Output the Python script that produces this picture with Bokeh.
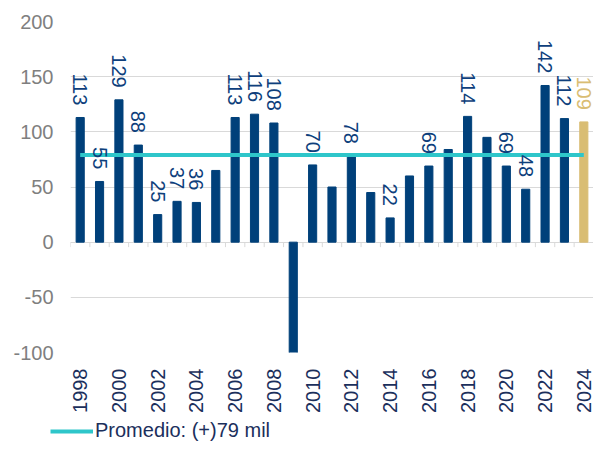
import math
from bokeh.plotting import figure
from bokeh.layouts import column
from bokeh.models import (ColumnDataSource, Range1d, FixedTicker, SingleIntervalTicker,
                          Legend, LegendItem)
from bokeh.core.properties import value
from bokeh.embed import file_html
from bokeh.resources import INLINE

# ---- data ----
years = list(range(1998, 2025))
values = [113, 55, 129, 88, 25, 37, 36, 65, 113, 116, 108, -110, 70, 50, 78,
          45, 22, 60, 69, 84, 114, 95, 69, 48, 142, 112, 109]
value_labels = ["113", "55", "129", "88", "25", "37", "36", "", "113", "116", "108", "",
                "70", "", "78", "", "22", "", "69", "", "114", "", "69", "48", "142",
                "112", "109"]
highlight_year = 2024
average = 79
legend_text = "Promedio: (+)79 mil"
y_ticks = [-100, -50, 0, 50, 100, 150, 200]

NAVY = "#00407A"
GOLD = "#D9BD73"
CYAN = "#2EC6CA"
GRID = "#D9D9D9"
FONT = "Liberation Sans"
W = 593

bar_colors = [GOLD if y == highlight_year else NAVY for y in years]
label_colors = [GOLD if y == highlight_year else "#0E3F7C" for y in years]
label_y = [v + 11 for v in values]

src = ColumnDataSource(dict(x=years, top=values, color=bar_colors,
                            lbl=value_labels, ly=label_y, lcolor=label_colors))

p = figure(width=W, height=415, output_backend="svg", toolbar_location=None,
           x_range=Range1d(years[0] - 0.5, years[-1] + 0.5),
           y_range=Range1d(-100, 200),
           min_border_left=70, min_border_right=0, min_border_top=21,
           min_border_bottom=61)
p.frame_align = False
p.outline_line_color = None
p.background_fill_color = "white"
p.border_fill_color = "white"

# grid
p.xgrid.grid_line_color = None
p.ygrid.grid_line_color = GRID
p.ygrid.grid_line_width = 1

# y axis
p.yaxis.ticker = FixedTicker(ticks=y_ticks)
p.yaxis.major_label_overrides = {t: str(t) for t in y_ticks}
p.yaxis.axis_line_color = None
p.yaxis.major_tick_line_color = None
p.yaxis.minor_tick_line_color = None
p.yaxis.major_tick_out = 0
p.yaxis.major_tick_in = 0
p.yaxis.major_label_standoff = 17
p.yaxis.major_label_text_font = FONT
p.yaxis.major_label_text_font_size = "20px"
p.yaxis.major_label_text_color = "#7F7F7F"

# x axis
p.xaxis.ticker = SingleIntervalTicker(interval=2)
p.xaxis.axis_line_color = None
p.xaxis.major_tick_line_color = None
p.xaxis.minor_tick_line_color = None
p.xaxis.major_tick_out = 0
p.xaxis.major_tick_in = 0
p.xaxis.major_label_orientation = math.pi / 2
p.xaxis.major_label_standoff = 12
p.xaxis.major_label_text_font = FONT
p.xaxis.major_label_text_font_size = "20px"
p.xaxis.major_label_text_color = "#1B2F5C"

# category boundary ticks on the zero line
bounds = [y - 0.5 for y in years] + [years[-1] + 0.5]
p.segment(x0=bounds, y0=[0] * len(bounds), x1=bounds, y1=[-4.5] * len(bounds),
          line_color=GRID, line_width=1)

# bars
p.vbar(x="x", top="top", bottom=0, width=0.42, color="color", source=src)

# average line
p.line(x=[years[0], years[-1]], y=[average, average], line_color=CYAN, line_width=4)

# value labels
p.text(x="x", y="ly", text="lbl", source=src, angle=-math.pi / 2,
       text_align="right", text_baseline="middle", text_color="lcolor",
       text_font=value(FONT), text_font_size="20px")

# ---- legend strip below the chart ----
lg = figure(width=W, height=27, output_backend="svg", toolbar_location=None,
            x_axis_type=None, y_axis_type=None,
            x_range=Range1d(0, 1), y_range=Range1d(0, 1),
            min_border=0, min_border_left=0, min_border_right=0,
            min_border_top=0, min_border_bottom=0)
lg.frame_align = False
lg.outline_line_color = None
lg.grid.visible = False
lg.background_fill_color = "white"
lg.border_fill_color = "white"
# same average series (falls outside this strip's view); only its legend sample shows
sample = lg.line(x=[years[0], years[-1]], y=[average, average],
                 line_color=CYAN, line_width=4)

legend = Legend(items=[LegendItem(label=legend_text, renderers=[sample])],
                location=(50, 0), orientation="horizontal",
                padding=0, margin=0, spacing=0, border_line_alpha=0,
                background_fill_alpha=0, glyph_width=43, glyph_height=20,
                label_height=20, label_standoff=2,
                label_text_font=FONT, label_text_font_size="20px",
                label_text_color="#1B2F5C")
lg.add_layout(legend, "center")

layout = column(p, lg, spacing=0)
open("out.html", "w").write(file_html(layout, INLINE))
